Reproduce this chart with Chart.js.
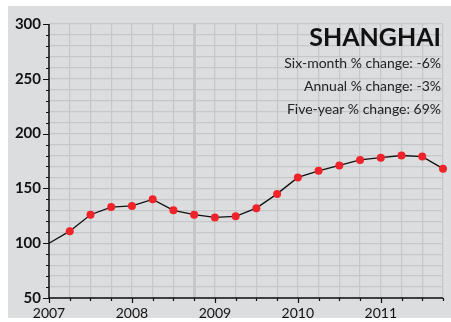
<!DOCTYPE html>
<html>
<head>
<meta charset="utf-8">
<script src="https://cdn.jsdelivr.net/npm/chart.js@4.4.1/dist/chart.umd.min.js"></script>
<style>
  html, body { margin: 0; padding: 0; background: #fff; }
  #wrap { width: 451px; height: 322px; }
</style>
</head>
<body>
<div id="wrap"><canvas id="chart" width="451" height="322"></canvas></div>
<script>
// quarterly index, Q1 2007 = 100
const quarters = [2007, 2007.25, 2007.5, 2007.75, 2008, 2008.25, 2008.5, 2008.75,
    2009, 2009.25, 2009.5, 2009.75, 2010, 2010.25, 2010.5, 2010.75,
    2011, 2011.25, 2011.5, 2011.75];
const priceIndex = [100, 111, 126, 133, 134, 140, 130, 126,
    123.5, 124.5, 132, 145, 160, 166, 171, 176,
    178, 180, 179, 168];
const yearLabels = [2007, 2008, 2009, 2010, 2011];
const valueLabels = [50, 100, 150, 200, 250, 300];

const cityName = 'SHANGHAI';
const changeLines = [
    'Six-month % change: -6%',
    'Annual % change: -3%',
    'Five-year % change: 69%'
];

const FONT = 'Lato, "Open Sans", sans-serif';

// gray panel behind everything + title block
const panel = {
    id: 'panel',
    beforeDraw(chart) {
        const ctx = chart.ctx;
        ctx.save();
        ctx.fillStyle = '#dcdddf';
        ctx.fillRect(8, 6, chart.width - 8, 312);
        ctx.restore();
    },
    afterDraw(chart) {
        const ctx = chart.ctx;
        const right = chart.chartArea.right - 2;
        ctx.save();
        ctx.fillStyle = '#111';
        ctx.textAlign = 'right';
        ctx.textBaseline = 'alphabetic';
        ctx.font = 'bold 25px ' + FONT;
        ctx.fillText(cityName, right, 46);
        ctx.fillStyle = '#222';
        ctx.font = '14px ' + FONT;
        changeLines.forEach((line, i) => {
            ctx.fillText(line, right, 68 + i * 23);
        });
        ctx.restore();
    }
};

// axis lines with long ticks on the labelled values, short ones between
const axisTicks = {
    id: 'axisTicks',
    afterDatasetsDraw(chart) {
        const ctx = chart.ctx;
        const area = chart.chartArea;
        const x = chart.scales.x;
        const y = chart.scales.y;
        ctx.save();
        ctx.strokeStyle = '#111';
        ctx.lineWidth = 1.5;
        ctx.beginPath();
        ctx.moveTo(area.left, area.top);
        ctx.lineTo(area.left, area.bottom);
        ctx.lineTo(area.right, area.bottom);
        ctx.stroke();
        ctx.lineWidth = 1.2;
        ctx.beginPath();
        y.ticks.forEach(t => {
            const py = Math.round(y.getPixelForValue(t.value)) + 0.5;
            const len = valueLabels.includes(t.value) ? 6 : 3;
            ctx.moveTo(area.left - len, py);
            ctx.lineTo(area.left, py);
        });
        x.ticks.forEach(t => {
            const px = Math.round(x.getPixelForValue(t.value)) + 0.5;
            const len = yearLabels.includes(t.value) ? 5 : 3;
            ctx.moveTo(px, area.bottom);
            ctx.lineTo(px, area.bottom + len);
        });
        ctx.stroke();
        ctx.restore();
    }
};

new Chart(document.getElementById('chart'), {
    type: 'line',
    data: {
        datasets: [{
            data: quarters.map((q, i) => ({ x: q, y: priceIndex[i] })),
            borderColor: '#111',
            borderWidth: 1.3,
            tension: 0,
            clip: false,
            pointRadius: quarters.map((q, i) => i === 0 ? 0 : 4),
            pointBackgroundColor: '#f0232b',
            pointBorderColor: '#f0232b',
            pointBorderWidth: 0,
        }]
    },
    options: {
        responsive: false,
        animation: false,
        layout: { padding: { top: 24, right: 8, bottom: 0, left: 0 } },
        plugins: {
            legend: { display: false },
            tooltip: { enabled: false }
        },
        scales: {
            x: {
                type: 'linear',
                min: 2007,
                max: 2011.75,
                afterFit(scale) { scale.height = 24; },
                afterBuildTicks(scale) {
                    scale.ticks = quarters.map(v => ({ value: v }));
                },
                border: { display: false },
                grid: {
                    drawTicks: false,
                    color: '#c6c7c9',
                    lineWidth: ctx => ctx.tick && ctx.tick.value === 2008.75 ? 3 : 1.2
                },
                ticks: {
                    padding: 7,
                    autoSkip: false,
                    maxRotation: 0,
                    color: '#111',
                    font: { family: FONT, size: 14 },
                    callback: v => yearLabels.includes(v) ? String(v) : ''
                }
            },
            y: {
                min: 50,
                max: 300,
                afterFit(scale) { scale.width = 49; },
                border: { display: false },
                grid: {
                    drawTicks: false,
                    color: '#c6c7c9',
                    lineWidth: 1.2
                },
                ticks: {
                    stepSize: 10,
                    padding: 8,
                    autoSkip: false,
                    color: '#111',
                    font: { family: FONT, size: 15, weight: 'bold' },
                    callback: v => valueLabels.includes(v) ? String(v) : ''
                }
            }
        }
    },
    plugins: [panel, axisTicks]
});
</script>
</body>
</html>
